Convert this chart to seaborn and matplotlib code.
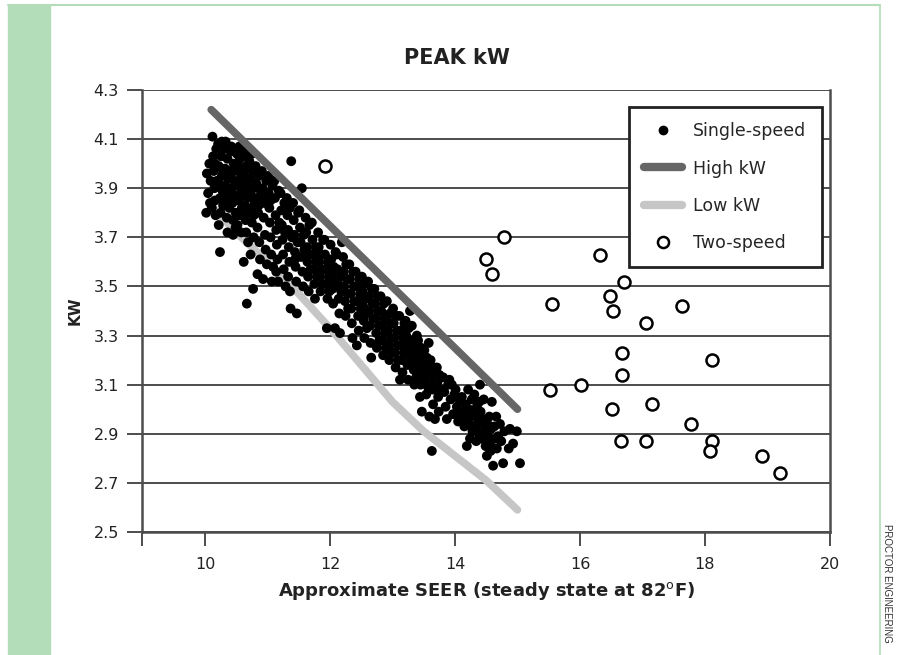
import matplotlib
matplotlib.use("Agg")
import matplotlib.pyplot as plt
import seaborn as sns
import pandas as pd
from matplotlib.lines import Line2D
from matplotlib.patches import Rectangle

# ---- data ----
single_pts = [
    (10.02, 3.80), (10.03, 3.96), (10.05, 3.88), (10.07, 4.00), (10.08, 3.84), (10.09, 3.93),
    (10.12, 4.11), (10.13, 4.03), (10.14, 3.97), (10.15, 3.90), (10.16, 3.85), (10.17, 3.79),
    (10.18, 4.06), (10.19, 3.93), (10.11, 3.82), (10.16, 4.00),
    (10.21, 4.08), (10.22, 3.99), (10.23, 3.92), (10.24, 3.86), (10.25, 3.80), (10.26, 4.03),
    (10.27, 3.95), (10.28, 3.89), (10.29, 3.83), (10.24, 3.64), (10.22, 3.75), (10.27, 4.09), (10.29, 3.97),
    (10.31, 4.06), (10.32, 3.98), (10.33, 3.91), (10.34, 3.85), (10.35, 3.78), (10.36, 4.02),
    (10.37, 3.94), (10.38, 3.88), (10.39, 3.82), (10.33, 4.09), (10.36, 3.72), (10.38, 3.97), (10.31, 3.87),
    (10.41, 4.05), (10.42, 3.96), (10.43, 3.90), (10.44, 3.84), (10.45, 3.77), (10.46, 4.00),
    (10.47, 3.93), (10.48, 3.86), (10.49, 3.80), (10.45, 3.71), (10.42, 4.07), (10.47, 3.98),
    (10.44, 3.88), (10.49, 3.74),
    (10.51, 4.04), (10.52, 3.97), (10.53, 3.91), (10.54, 3.85), (10.55, 3.79), (10.56, 4.02),
    (10.57, 3.94), (10.58, 3.88), (10.59, 3.82), (10.52, 3.75), (10.55, 4.07), (10.57, 3.87),
    (10.53, 3.99), (10.58, 3.72),
    (10.61, 4.03), (10.62, 3.96), (10.63, 3.89), (10.64, 3.83), (10.65, 3.77), (10.66, 3.99),
    (10.67, 3.92), (10.68, 3.86), (10.69, 3.68), (10.67, 3.43), (10.62, 3.60), (10.64, 4.05),
    (10.68, 3.80), (10.66, 3.72),
    (10.71, 4.01), (10.72, 3.94), (10.73, 3.88), (10.74, 3.82), (10.75, 3.76), (10.76, 3.97),
    (10.77, 3.90), (10.78, 3.70), (10.79, 3.85), (10.77, 3.49), (10.73, 3.63), (10.75, 4.04), (10.78, 3.79),
    (10.81, 3.99), (10.82, 3.92), (10.83, 3.86), (10.84, 3.74), (10.85, 3.80), (10.86, 3.95),
    (10.87, 3.68), (10.88, 3.61), (10.89, 3.89), (10.84, 3.55), (10.86, 3.83),
    (10.91, 3.97), (10.92, 3.90), (10.93, 3.53), (10.94, 3.78), (10.95, 3.84), (10.96, 3.71),
    (10.97, 3.65), (10.98, 3.93), (10.99, 3.59), (10.94, 3.87),
    (11.01, 3.95), (11.02, 3.88), (11.03, 3.82), (11.04, 3.76), (11.05, 3.70), (11.06, 3.63),
    (11.07, 3.52), (11.08, 3.91), (11.09, 3.58), (11.05, 3.85),
    (11.11, 3.93), (11.12, 3.86), (11.13, 3.79), (11.14, 3.73), (11.15, 3.67), (11.16, 3.61),
    (11.17, 3.52), (11.18, 3.89), (11.19, 3.76), (11.14, 3.56),
    (11.21, 3.88), (11.22, 3.81), (11.23, 3.75), (11.24, 3.69), (11.25, 3.63), (11.26, 3.57),
    (11.27, 3.84), (11.28, 3.72), (11.29, 3.50),
    (11.31, 3.86), (11.32, 3.79), (11.33, 3.73), (11.34, 3.66), (11.35, 3.60), (11.36, 3.48),
    (11.37, 3.41), (11.38, 4.01), (11.39, 3.70), (11.33, 3.54), (11.36, 3.82),
    (11.41, 3.84), (11.42, 3.77), (11.43, 3.71), (11.44, 3.64), (11.45, 3.58), (11.46, 3.52),
    (11.47, 3.39), (11.48, 3.68), (11.49, 3.80), (11.44, 3.61),
    (11.51, 3.81), (11.52, 3.74), (11.53, 3.68), (11.54, 3.62), (11.55, 3.90), (11.56, 3.56),
    (11.57, 3.50), (11.58, 3.71), (11.59, 3.65),
    (11.61, 3.78), (11.62, 3.72), (11.63, 3.66), (11.64, 3.60), (11.65, 3.54), (11.66, 3.48),
    (11.67, 3.75), (11.68, 3.63), (11.69, 3.57),
    (11.71, 3.76), (11.72, 3.69), (11.73, 3.63), (11.74, 3.57), (11.75, 3.51), (11.76, 3.45),
    (11.77, 3.66), (11.78, 3.60), (11.79, 3.54),
    (11.81, 3.72), (11.82, 3.66), (11.83, 3.60), (11.84, 3.54), (11.85, 3.48), (11.86, 3.63),
    (11.87, 3.57), (11.88, 3.51), (11.89, 3.69),
    (11.91, 3.69), (11.92, 3.63), (11.93, 3.57), (11.94, 3.51), (11.95, 3.33), (11.96, 3.45),
    (11.97, 3.60), (11.98, 3.54), (11.99, 3.48),
    (12.01, 3.67), (12.02, 3.61), (12.03, 3.55), (12.04, 3.49), (12.05, 3.43), (12.06, 3.58),
    (12.07, 3.52), (12.08, 3.33), (12.09, 3.64),
    (12.11, 3.63), (12.12, 3.57), (12.13, 3.51), (12.14, 3.45), (12.15, 3.39), (12.16, 3.31),
    (12.17, 3.54), (12.18, 3.48), (12.19, 3.68),
    (12.21, 3.62), (12.22, 3.56), (12.23, 3.50), (12.24, 3.44), (12.25, 3.38), (12.26, 3.59),
    (12.27, 3.53), (12.28, 3.47), (12.29, 3.41),
    (12.31, 3.59), (12.32, 3.53), (12.33, 3.47), (12.34, 3.41), (12.35, 3.35), (12.36, 3.29),
    (12.37, 3.56), (12.38, 3.50), (12.39, 3.44),
    (12.41, 3.56), (12.42, 3.50), (12.43, 3.26), (12.44, 3.44), (12.45, 3.38), (12.46, 3.32),
    (12.47, 3.53), (12.48, 3.47), (12.49, 3.41),
    (12.51, 3.54), (12.52, 3.48), (12.53, 3.42), (12.54, 3.36), (12.55, 3.29), (12.56, 3.51),
    (12.57, 3.45), (12.58, 3.39), (12.59, 3.33),
    (12.61, 3.52), (12.62, 3.46), (12.63, 3.40), (12.64, 3.34), (12.65, 3.27), (12.66, 3.21),
    (12.67, 3.49), (12.68, 3.43), (12.69, 3.37),
    (12.71, 3.49), (12.72, 3.43), (12.73, 3.37), (12.74, 3.31), (12.75, 3.25), (12.76, 3.46),
    (12.77, 3.40), (12.78, 3.34), (12.79, 3.28),
    (12.81, 3.46), (12.82, 3.40), (12.83, 3.34), (12.84, 3.28), (12.85, 3.22), (12.86, 3.43),
    (12.87, 3.37), (12.88, 3.31), (12.89, 3.25),
    (12.91, 3.44), (12.92, 3.38), (12.93, 3.32), (12.94, 3.26), (12.95, 3.20), (12.96, 3.39),
    (12.97, 3.35), (12.98, 3.29), (12.99, 3.23),
    (13.01, 3.41), (13.02, 3.35), (13.03, 3.29), (13.04, 3.23), (13.05, 3.17), (13.06, 3.38),
    (13.07, 3.32), (13.08, 3.26), (13.09, 3.20),
    (13.11, 3.38), (13.12, 3.12), (13.13, 3.32), (13.14, 3.26), (13.15, 3.20), (13.16, 3.15),
    (13.17, 3.29), (13.18, 3.23), (13.19, 3.35),
    (13.21, 3.36), (13.22, 3.30), (13.23, 3.24), (13.24, 3.18), (13.25, 3.12), (13.26, 3.33),
    (13.27, 3.27), (13.28, 3.40), (13.29, 3.21),
    (13.31, 3.34), (13.32, 3.28), (13.33, 3.22), (13.34, 3.16), (13.35, 3.10), (13.36, 3.25),
    (13.37, 3.19), (13.38, 3.13), (13.39, 3.30),
    (13.41, 3.28), (13.42, 3.22), (13.43, 3.16), (13.44, 3.05), (13.45, 3.10), (13.46, 3.25),
    (13.47, 2.99), (13.48, 3.19), (13.49, 3.13),
    (13.51, 3.24), (13.52, 3.18), (13.53, 3.12), (13.54, 3.06), (13.55, 3.21), (13.56, 3.15),
    (13.57, 3.09), (13.58, 3.27), (13.59, 2.97),
    (13.61, 3.20), (13.62, 3.14), (13.63, 2.83), (13.64, 3.08), (13.65, 3.02), (13.66, 3.17),
    (13.67, 3.11), (13.68, 2.96),
    (13.71, 3.17), (13.72, 3.11), (13.73, 3.05), (13.74, 2.99), (13.75, 3.14), (13.76, 3.08), (13.79, 3.08),
    (13.81, 3.13), (13.83, 3.07), (13.85, 3.01), (13.87, 2.96), (13.89, 3.10),
    (13.91, 3.12), (13.93, 3.04), (13.95, 3.10), (13.97, 2.98), (13.99, 3.06),
    (14.01, 3.08), (14.03, 3.01), (14.05, 2.95), (14.07, 3.04), (14.09, 2.98),
    (14.11, 3.05), (14.13, 2.99), (14.15, 2.93), (14.17, 3.02), (14.19, 2.85), (14.18, 2.96),
    (14.21, 3.08), (14.22, 3.00), (14.23, 2.94), (14.24, 2.88), (14.25, 2.97), (14.27, 3.04),
    (14.28, 2.91), (14.29, 2.99),
    (14.31, 3.06), (14.32, 2.98), (14.33, 2.93), (14.34, 2.87), (14.35, 3.01), (14.37, 2.95),
    (14.38, 2.90), (14.39, 3.03),
    (14.40, 3.10), (14.41, 2.99), (14.42, 2.94), (14.43, 2.88), (14.45, 2.96), (14.46, 3.04),
    (14.47, 2.91), (14.49, 2.85),
    (14.51, 2.81), (14.52, 2.94), (14.53, 2.89), (14.55, 2.97), (14.56, 2.86), (14.58, 2.92),
    (14.59, 3.03), (14.57, 2.83),
    (14.61, 2.77), (14.63, 2.93), (14.65, 2.88), (14.67, 2.84), (14.69, 2.89), (14.66, 2.97),
    (14.72, 2.94), (14.74, 2.87), (14.77, 2.78), (14.79, 2.91),
    (14.86, 2.84), (14.93, 2.86), (14.99, 2.91), (15.04, 2.78), (14.88, 2.92),
]

two_seer = [11.92, 14.79, 14.49, 14.59, 16.32, 16.71, 15.55, 16.48, 16.53, 17.05,
            17.64, 16.68, 18.11, 16.68, 16.02, 15.52, 16.52, 17.15, 17.77, 16.66,
            17.05, 18.11, 18.08, 18.92, 19.20]
two_kw = [3.99, 3.70, 3.61, 3.55, 3.63, 3.52, 3.43, 3.46, 3.40, 3.35,
          3.42, 3.23, 3.20, 3.14, 3.10, 3.08, 3.00, 3.02, 2.94, 2.87,
          2.87, 2.87, 2.83, 2.81, 2.74]

high_seer = [10.1, 15.0]
high_kw = [4.22, 3.00]

low_seer = [10.1, 10.5, 11.0, 11.5, 12.0, 12.5, 13.0, 13.5, 14.0, 14.5, 15.0]
low_kw = [3.83, 3.72, 3.60, 3.47, 3.33, 3.18, 3.03, 2.91, 2.81, 2.71, 2.59]

x_ticks = [9, 10, 12, 14, 16, 18, 20]
x_labels = ['', '10', '12', '14', '16', '18', '20']
y_ticks = [2.5, 2.7, 2.9, 3.1, 3.3, 3.5, 3.7, 3.9, 4.1, 4.3]

single = pd.DataFrame(single_pts, columns=['seer', 'kw'])
two = pd.DataFrame({'seer': two_seer, 'kw': two_kw})

# ---- style ----
sns.set_style('white')
plt.rcParams['font.family'] = ['DejaVu Sans']

grey = '#4d4d4d'
fig = plt.figure(figsize=(9, 6.55), dpi=100)

# page decoration: green side bar and thin frame
fig.patches.append(Rectangle((0.009, 0), 0.047, 0.992, transform=fig.transFigure,
                             color='#b3dcb9', zorder=0))
fig.add_artist(Line2D([0.009, 0.978], [0.992, 0.992], transform=fig.transFigure,
                      color='#b3dcb9', lw=1.5))
fig.add_artist(Line2D([0.978, 0.978], [0, 0.992], transform=fig.transFigure,
                      color='#b3dcb9', lw=1.2))

ax = fig.add_axes([0.1583, 0.1878, 0.7639, 0.6748])

sns.lineplot(x=low_seer, y=low_kw, ax=ax, color='#c6c6c6', lw=5.5,
             solid_capstyle='round', sort=False, zorder=2)
sns.scatterplot(data=single, x='seer', y='kw', ax=ax, color='black', s=50,
                edgecolor='none', zorder=3)
sns.lineplot(x=high_seer, y=high_kw, ax=ax, color='#666666', lw=5.5,
             solid_capstyle='round', sort=False, zorder=4)
sns.scatterplot(data=two, x='seer', y='kw', ax=ax, facecolor='white', edgecolor='black',
                linewidth=1.8, s=75, zorder=5)

ax.set_xlim(9, 20)
ax.set_ylim(2.5, 4.3)
ax.set_xticks(x_ticks)
ax.set_xticklabels(x_labels)
ax.set_yticks(y_ticks)
ax.set_yticklabels([f'{v:.1f}' for v in y_ticks])
ax.grid(axis='y', color=grey, lw=1.4)
ax.grid(axis='x', visible=False)
ax.set_axisbelow(True)

for side in ['left', 'bottom', 'right']:
    ax.spines[side].set_color(grey)
    ax.spines[side].set_linewidth(1.8)
ax.spines['top'].set_visible(False)

ax.tick_params(axis='y', direction='out', length=11, width=1.4, color=grey,
               labelsize=11.5, labelcolor='#222222', pad=6, left=True)
ax.tick_params(axis='x', direction='out', length=10, width=1.4, color=grey,
               labelsize=11.5, labelcolor='#222222', pad=8, bottom=True)

ax.set_xlabel('Approximate SEER (steady state at 82$^{\\mathrm{o}}$F)', fontsize=13,
              fontweight='semibold', color='#222222', labelpad=6)
ax.set_ylabel('KW', fontsize=11, fontweight='bold', color='#222222', labelpad=8)
fig.text(0.508, 0.911, 'PEAK kW', fontsize=15, fontweight='bold', color='#222222',
         ha='center', va='center')

handles = [
    Line2D([], [], marker='o', ls='none', color='black', markersize=6),
    Line2D([], [], color='#666666', lw=6, solid_capstyle='round'),
    Line2D([], [], color='#c6c6c6', lw=6, solid_capstyle='round'),
    Line2D([], [], marker='o', ls='none', markerfacecolor='white',
           markeredgecolor='black', markeredgewidth=1.8, markersize=8),
]
leg = ax.legend(handles, ['Single-speed', 'High kW', 'Low kW', 'Two-speed'],
                loc='upper right', bbox_to_anchor=(0.988, 0.962), fontsize=12.5,
                frameon=True, fancybox=False, edgecolor='#222222',
                framealpha=1, labelspacing=1.1, handlelength=2.2,
                borderpad=0.9, handletextpad=0.6, borderaxespad=0)
leg.get_frame().set_linewidth(2)

fig.text(0.985, 0.2, 'PROCTOR ENGINEERING', rotation=270, ha='center', va='top',
         fontsize=7, color='#333333', family=['Liberation Sans'])

fig.savefig('out.png', dpi=100)
